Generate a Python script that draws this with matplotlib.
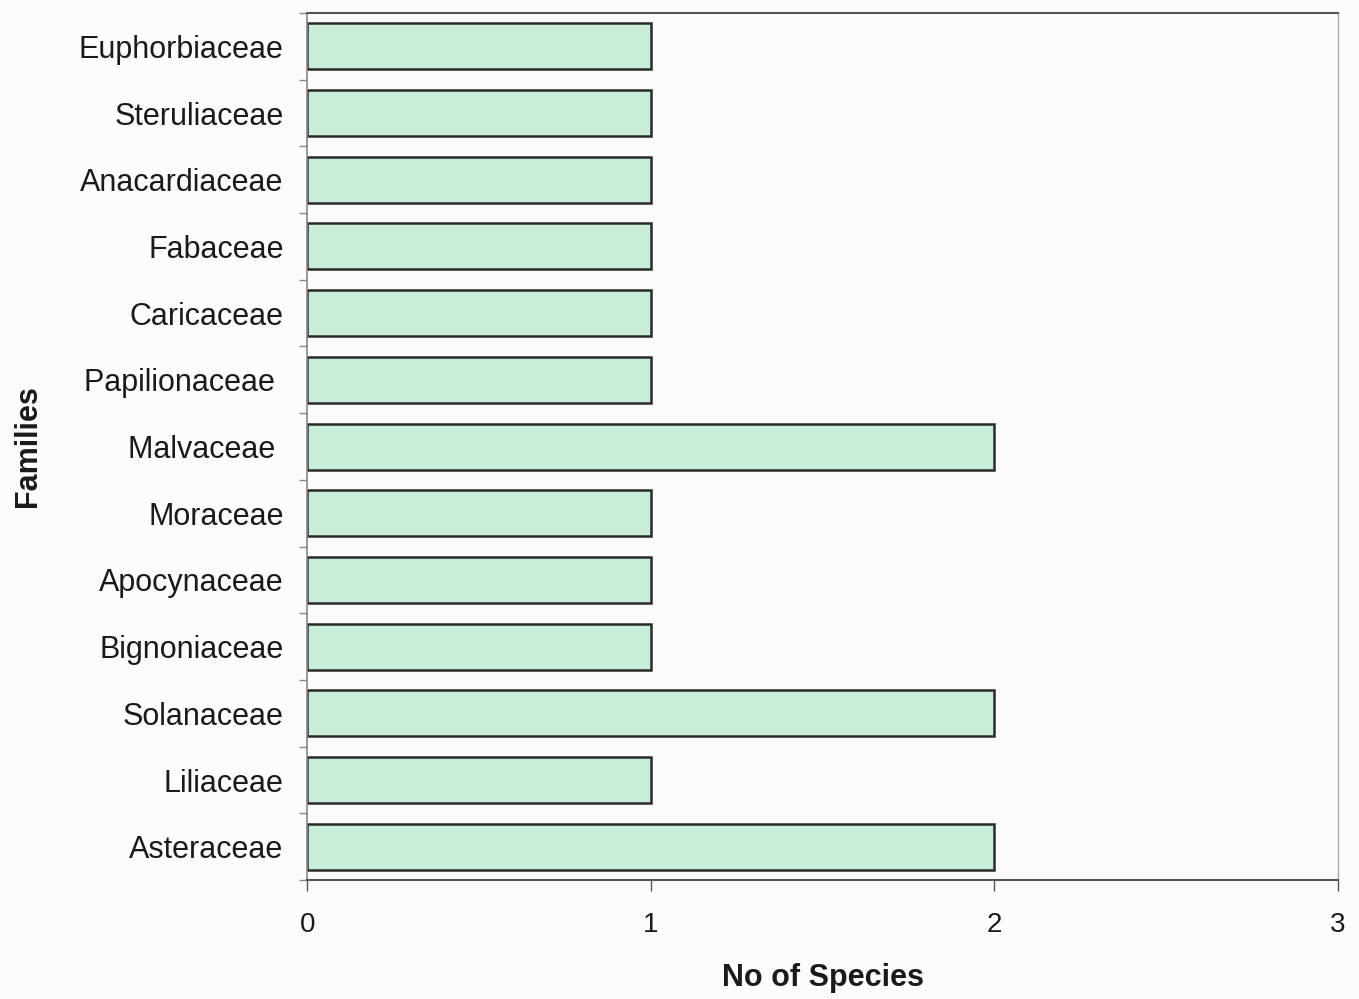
import matplotlib.pyplot as plt
from matplotlib.ticker import MultipleLocator

# families listed bottom -> top, as in the chart
families = ['Asteraceae', 'Liliaceae', 'Solanaceae', 'Bignoniaceae', 'Apocynaceae',
            'Moraceae', 'Malvaceae ', 'Papilionaceae ', 'Caricaceae', 'Fabaceae',
            'Anacardiaceae', 'Steruliaceae', 'Euphorbiaceae']
species = [2, 1, 2, 1, 1, 1, 2, 1, 1, 1, 1, 1, 1]
xticks = [0, 1, 2, 3]

plt.rcParams['font.family'] = ['Liberation Sans', 'DejaVu Sans']

fig = plt.figure(figsize=(13.59, 9.99), dpi=100, facecolor='#fdfcfc')
ax = fig.add_axes([0.226, 0.119, 0.7586, 0.868])
ax.set_facecolor('#fdfcfc')

pos = list(range(len(families)))
ax.barh(pos, species, height=0.69, color='#c8edd8', edgecolor='#2a2a2a', linewidth=1.8)

ax.set_xlim(0, 3)
ax.set_ylim(-0.5, len(families) - 0.5)
ax.set_xticks(xticks)
ax.set_xticklabels([str(t) for t in xticks], fontsize=20)
ax.set_yticks(pos)
ax.set_yticklabels(families, fontsize=22)
ax.yaxis.set_minor_locator(MultipleLocator(1, offset=0.5))
ax.tick_params(axis='y', which='major', length=0, pad=17, colors='#1a1a1a')
ax.tick_params(axis='y', which='minor', length=6, color='#888888', width=1)
ax.tick_params(axis='x', which='major', length=8, color='#555555', width=1, pad=15,
               labelcolor='#1a1a1a')

ax.set_xlabel('No of Species', fontsize=22, fontweight='bold', labelpad=18, color='#1a1a1a')
ax.set_ylabel('Families', fontsize=22, fontweight='bold', labelpad=26, color='#1a1a1a')

for side, col, lw in [('top', '#555555', 1.5), ('bottom', '#555555', 1.5),
                      ('left', '#888888', 1.2), ('right', '#aaaaaa', 1.0)]:
    ax.spines[side].set_color(col)
    ax.spines[side].set_linewidth(lw)

fig.savefig('out.png', dpi=100, facecolor=fig.get_facecolor())
